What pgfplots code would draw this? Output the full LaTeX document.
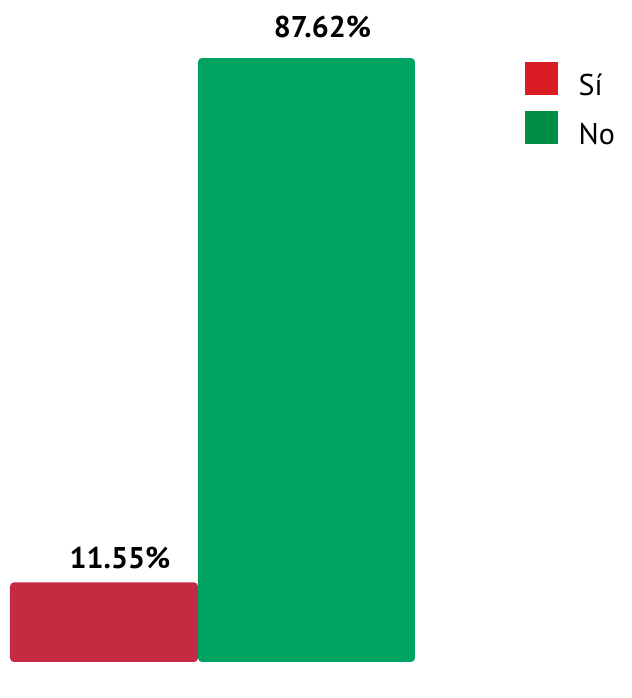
\documentclass[border=0pt]{standalone}
\usepackage{fontspec}
\setmainfont{PT Sans}
\usepackage{pgfplots}
\pgfplotsset{compat=1.18}
\definecolor{barred}{HTML}{C62A42}
\definecolor{bargreen}{HTML}{00A462}
\definecolor{legred}{HTML}{DA1C24}
\definecolor{leggreen}{HTML}{008E46}
\begin{document}
\begin{tikzpicture}
\path[use as bounding box] (0pt,0pt) rectangle (316pt,349pt);
\begin{axis}[
  at={(5pt,18pt)}, anchor=south west,
  scale only axis, width=202.5pt, height=302pt,
  xmin=0, xmax=405, ymin=0, ymax=87.62,
  axis lines=none, clip=false,
  ybar, bar shift=0pt,
  /pgf/number format/assume math mode=true,
  nodes near coords={\pgfmathprintnumber[fixed,fixed zerofill,precision=2]{\pgfplotspointmeta}\%},
  every node near coord/.append style={font=\bfseries\fontsize{15}{18}\selectfont, text=black, anchor=south, xshift=8pt},
  legend style={draw=none, fill=none, at={(1.255,1.0)}, anchor=north west,
    font=\fontsize{15}{18}\selectfont, row sep=3pt,
    nodes={inner sep=2pt, text height=11pt, text depth=3pt}},
  legend cell align=left,
]
\addplot[draw=none, fill=barred, bar width=188, rounded corners=2pt,
  every node near coord/.append style={yshift=3pt},
  legend image code/.code={\fill[legred, sharp corners] (0pt,-4pt) rectangle (16.5pt,12.5pt); \path (25pt,0pt);}]
  coordinates {(94,11.55)};
\addlegendentry{Sí}
\addplot[draw=none, fill=bargreen, bar width=217, rounded corners=2pt,
  every node near coord/.append style={yshift=6.5pt},
  legend image code/.code={\fill[leggreen, sharp corners] (0pt,-4pt) rectangle (16.5pt,12.5pt); \path (25pt,0pt);}]
  coordinates {(296.5,87.62)};
\addlegendentry{No}
\end{axis}
\end{tikzpicture}
\end{document}
